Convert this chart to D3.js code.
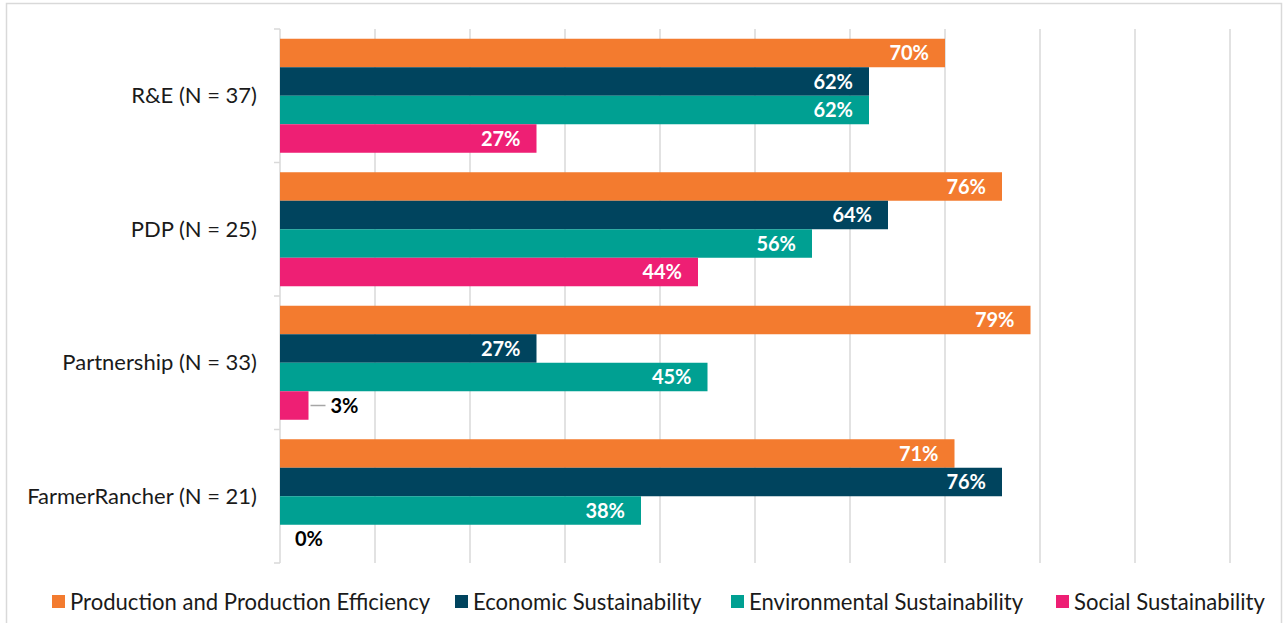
<!DOCTYPE html>
<html>
<head>
<meta charset="utf-8">
<script src="https://cdn.jsdelivr.net/npm/d3@7"></script>
<style>
  html, body { margin: 0; padding: 0; background: #fff; }
  svg { display: block; font-family: Lato, "Open Sans", sans-serif; }
</style>
</head>
<body>
<svg id="chart" width="1285" height="623"></svg>
<script>
// Program groups (rows) and the four outcome series shown for each
const categories = ["R&E (N = 37)", "PDP (N = 25)", "Partnership (N = 33)", "FarmerRancher (N = 21)"];
const seriesNames = ["Production and Production Efficiency", "Economic Sustainability", "Environmental Sustainability", "Social Sustainability"];
const production = [70, 76, 79, 71];
const economic = [62, 64, 27, 76];
const environmental = [62, 56, 45, 38];
const social = [27, 44, 3, 0];
const gridTicks = [0, 10, 20, 30, 40, 50, 60, 70, 80, 90, 100];

const colors = ["#F37B2F", "#00445E", "#00A092", "#EE1F74"];
const seriesValues = [production, economic, environmental, social];

const rows = categories.map((c, i) => ({
  category: c,
  values: seriesNames.map((s, j) => ({ series: s, idx: j, value: seriesValues[j][i] }))
}));

const svg = d3.select("#chart");
const plot = { left: 280, right: 1230, top: 29, bottom: 563 };

// frame around the whole chart
svg.append("rect")
  .attr("x", 6.5).attr("y", 3.5).attr("width", 1275).attr("height", 630)
  .attr("fill", "none").attr("stroke", "#D9D9D9").attr("stroke-width", 1.5);

const x = d3.scaleLinear().domain([0, 100]).range([plot.left, plot.right]);
const y0 = d3.scaleBand().domain(categories).range([plot.top, plot.bottom])
  .paddingInner(0.146).paddingOuter(0.073);
const y1 = d3.scaleBand().domain(seriesNames).range([0, y0.bandwidth()]);

// vertical gridlines
svg.append("g").selectAll("line")
  .data(gridTicks.slice(1))
  .join("line")
  .attr("x1", d => x(d)).attr("x2", d => x(d))
  .attr("y1", plot.top).attr("y2", plot.bottom)
  .attr("stroke", "#D9D9D9").attr("stroke-width", 1.5);

// category axis line with ticks at band boundaries
const boundaries = [plot.top].concat(categories.map(c => y0(c) + y0.bandwidth() + y0.step() * y0.paddingInner() / 2));
boundaries[boundaries.length - 1] = plot.bottom;
const axisG = svg.append("g");
axisG.append("line")
  .attr("x1", plot.left).attr("x2", plot.left)
  .attr("y1", plot.top).attr("y2", plot.bottom)
  .attr("stroke", "#D9D9D9").attr("stroke-width", 1.5);
axisG.selectAll("line.tick")
  .data(boundaries)
  .join("line").attr("class", "tick")
  .attr("x1", plot.left - 6).attr("x2", plot.left)
  .attr("y1", d => d).attr("y2", d => d)
  .attr("stroke", "#D9D9D9").attr("stroke-width", 1.5);

// category labels
axisG.selectAll("text")
  .data(categories)
  .join("text")
  .attr("x", plot.left - 23)
  .attr("y", d => y0(d) + y0.bandwidth() / 2)
  .attr("dy", "0.35em")
  .attr("text-anchor", "end")
  .attr("font-size", 22)
  .attr("fill", "#1a1a1a")
  .text(d => d);

// bars
const groups = svg.append("g").selectAll("g")
  .data(rows)
  .join("g")
  .attr("transform", d => `translate(0,${y0(d.category)})`);

groups.selectAll("rect")
  .data(d => d.values)
  .join("rect")
  .attr("x", x(0))
  .attr("y", d => y1(d.series))
  .attr("width", d => x(d.value) - x(0))
  .attr("height", y1.bandwidth())
  .attr("fill", d => colors[d.idx]);

// value labels: inside the bar end, or outside for very short bars
const labels = groups.selectAll("g.lbl")
  .data(d => d.values)
  .join("g").attr("class", "lbl");

labels.each(function (d) {
  const g = d3.select(this);
  const cy = y1(d.series) + y1.bandwidth() / 2;
  const inside = d.value >= 10;
  if (inside) {
    g.append("text")
      .attr("x", x(d.value) - 16)
      .attr("y", cy).attr("dy", "0.36em")
      .attr("text-anchor", "end")
      .attr("font-size", 20).attr("font-weight", 700)
      .attr("fill", "#fff")
      .text(d.value + "%");
  } else if (d.value > 0) {
    g.append("line")
      .attr("x1", x(d.value) + 2).attr("x2", x(d.value) + 17)
      .attr("y1", cy).attr("y2", cy)
      .attr("stroke", "#A6A6A6").attr("stroke-width", 1.5);
    g.append("text")
      .attr("x", x(d.value) + 22)
      .attr("y", cy).attr("dy", "0.36em")
      .attr("font-size", 20).attr("font-weight", 700)
      .attr("fill", "#000")
      .text(d.value + "%");
  } else {
    g.append("text")
      .attr("x", x(d.value) + 15)
      .attr("y", cy).attr("dy", "0.36em")
      .attr("font-size", 20).attr("font-weight", 700)
      .attr("fill", "#000")
      .text(d.value + "%");
  }
});

// legend
const legendX = [52, 455, 731, 1056];
const legend = svg.append("g").selectAll("g")
  .data(seriesNames)
  .join("g")
  .attr("transform", (d, i) => `translate(${legendX[i]},602)`);
legend.append("rect")
  .attr("x", 0).attr("y", -7).attr("width", 13).attr("height", 13)
  .attr("fill", (d, i) => colors[i]);
legend.append("text")
  .attr("x", 18).attr("y", 0).attr("dy", "0.35em")
  .attr("font-size", 22.1).attr("fill", "#1a1a1a")
  .text(d => d);
</script>
</body>
</html>
